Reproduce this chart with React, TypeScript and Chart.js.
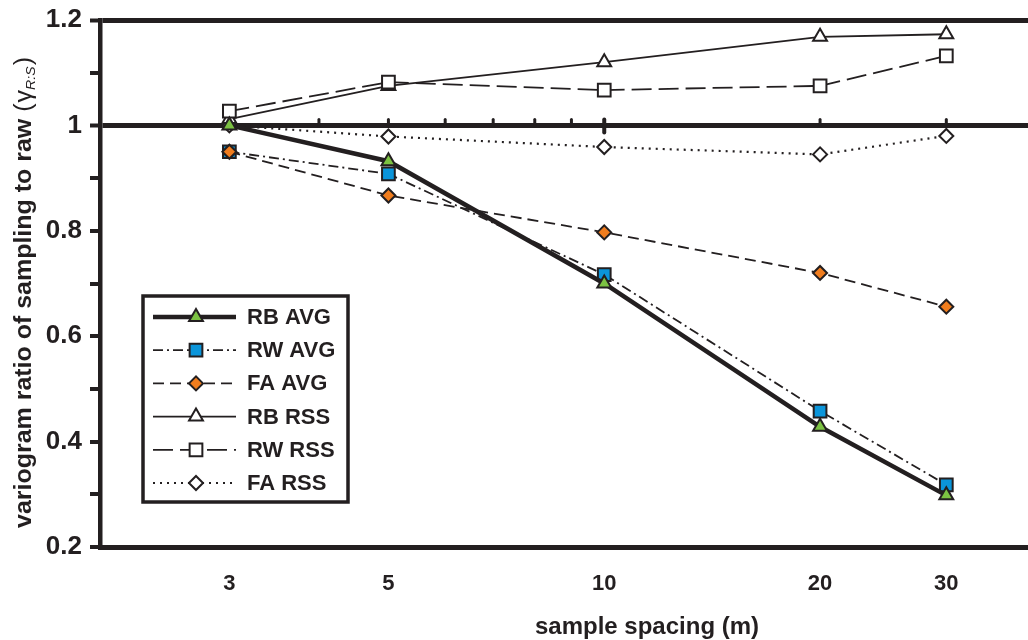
import React, { useEffect, useRef } from 'react';
import { Chart, registerables } from 'chart.js';

Chart.register(...registerables);

// ---------- data ----------
const spacing = [3, 5, 10, 20, 30];
const rbAvg = [1.0, 0.932, 0.7, 0.428, 0.298];
const rwAvg = [0.95, 0.908, 0.717, 0.458, 0.318];
const faAvg = [0.95, 0.867, 0.797, 0.72, 0.656];
const rbRss = [1.012, 1.075, 1.12, 1.168, 1.173];
const rwRss = [1.027, 1.082, 1.067, 1.075, 1.132];
const faRss = [1.0, 0.979, 0.959, 0.945, 0.98];

const seriesNames = ['RB AVG', 'RW AVG', 'FA AVG', 'RB RSS', 'RW RSS', 'FA RSS'];
const xTickValues = [3, 5, 10, 20, 30];
const refLineMinorTicks = [3, 4, 5, 6, 7, 8, 9, 10, 20, 30];
const yMin = 0.2;
const yMax = 1.2;
const yStep = 0.1;
const xMin = 1.98;
const xMax = 39;

const INK = '#231f20';
const FONT = '"Liberation Sans", Arial, Helvetica, sans-serif';

type Sty = { dash: number[]; width: number; point: string; fill: string; radius: number };
const styles: Sty[] = [
  { dash: [], width: 4.5, point: 'triangle', fill: '#7cc242', radius: 8 },
  { dash: [10, 4, 2, 4], width: 1.8, point: 'rect', fill: '#0b95da', radius: 9 },
  { dash: [11, 6], width: 1.8, point: 'rectRot', fill: '#f07d1e', radius: 7 },
  { dash: [], width: 1.8, point: 'triangle', fill: '#ffffff', radius: 8 },
  { dash: [20, 7], width: 1.8, point: 'rect', fill: '#ffffff', radius: 9 },
  { dash: [2, 5], width: 2.2, point: 'rectRot', fill: '#ffffff', radius: 7 },
];
const seriesValues = [rbAvg, rwAvg, faAvg, rbRss, rwRss, faRss];
const drawOrder = [0, 2, 1, 4, 3, 5];

function drawMarker(ctx: CanvasRenderingContext2D, s: Sty, x: number, y: number) {
  const r = s.radius;
  ctx.beginPath();
  if (s.point === 'triangle') {
    for (let i = 0; i < 3; i++) {
      const a = (i * 2 * Math.PI) / 3;
      const px = x + Math.sin(a) * r;
      const py = y - Math.cos(a) * r;
      if (i === 0) ctx.moveTo(px, py);
      else ctx.lineTo(px, py);
    }
  } else if (s.point === 'rect') {
    const h = Math.SQRT1_2 * r;
    ctx.rect(x - h, y - h, 2 * h, 2 * h);
  } else {
    ctx.moveTo(x - r, y);
    ctx.lineTo(x, y - r);
    ctx.lineTo(x + r, y);
    ctx.lineTo(x, y + r);
  }
  ctx.closePath();
  ctx.setLineDash([]);
  ctx.fillStyle = s.fill;
  ctx.fill();
  ctx.lineWidth = 2;
  ctx.strokeStyle = INK;
  ctx.stroke();
}

const decorPlugin = {
  id: 'decor',
  beforeDatasetsDraw(chart: any) {
    const ctx = chart.ctx as CanvasRenderingContext2D;
    const xs = chart.scales.x;
    const ys = chart.scales.y;
    const y1 = ys.getPixelForValue(1);
    ctx.save();
    ctx.strokeStyle = INK;
    ctx.lineCap = 'round';
    refLineMinorTicks.forEach((v) => {
      const px = xs.getPixelForValue(v);
      const major = v === 10;
      ctx.lineWidth = major ? 4 : 3;
      ctx.beginPath();
      ctx.moveTo(px, y1 - 6);
      ctx.lineTo(px, major ? y1 + 7 : y1);
      ctx.stroke();
    });
    ctx.restore();
  },
  afterDraw(chart: any) {
    const ctx = chart.ctx as CanvasRenderingContext2D;
    ctx.save();
    // legend box
    const bx = 143, by = 296, bw = 205, bh = 206;
    ctx.fillStyle = '#ffffff';
    ctx.fillRect(bx, by, bw, bh);
    ctx.lineWidth = 3.5;
    ctx.strokeStyle = INK;
    ctx.setLineDash([]);
    ctx.strokeRect(bx, by, bw, bh);
    const rowY0 = 317;
    const rowGap = 33.2;
    seriesNames.forEach((name, i) => {
      const s = styles[i];
      const yy = rowY0 + i * rowGap;
      ctx.beginPath();
      ctx.setLineDash(s.dash);
      ctx.lineWidth = s.width;
      ctx.strokeStyle = INK;
      ctx.moveTo(153, yy);
      ctx.lineTo(236, yy);
      ctx.stroke();
      drawMarker(ctx, s, 196, yy);
      ctx.fillStyle = INK;
      ctx.font = `bold 22px ${FONT}`;
      ctx.textBaseline = 'middle';
      ctx.textAlign = 'left';
      ctx.fillText(name, 247, yy + 1);
    });

    // x title
    ctx.fillStyle = INK;
    ctx.font = `bold 24px ${FONT}`;
    ctx.textAlign = 'center';
    ctx.textBaseline = 'alphabetic';
    ctx.fillText('sample spacing (m)', 647, 634);

    // y title (rotated), fitted to span from y=528 up to y=57
    const main = 'variogram ratio of sampling to raw ';
    ctx.textAlign = 'left';
    ctx.font = `bold 23px ${FONT}`;
    const wMain = ctx.measureText(main).width;
    ctx.font = `23px ${FONT}`;
    const wOpen = ctx.measureText('(').width;
    const wGamma = ctx.measureText('\u03b3').width;
    const wClose = ctx.measureText(')').width;
    ctx.font = `italic 13px ${FONT}`;
    const wSub = ctx.measureText('R:S').width;
    const total = wMain + wOpen + 1 + wGamma + wSub + 1 + wClose;
    const k = (528 - 57) / total;
    ctx.translate(31, 528);
    ctx.rotate(-Math.PI / 2);
    ctx.scale(k, 1);
    ctx.font = `bold 23px ${FONT}`;
    ctx.fillText(main, 0, 0);
    let cx = wMain;
    ctx.font = `23px ${FONT}`;
    ctx.fillText('(', cx, 0);
    cx += wOpen + 1;
    ctx.fillText('\u03b3', cx, 0);
    cx += wGamma;
    ctx.font = `italic 13px ${FONT}`;
    ctx.fillText('R:S', cx, 4);
    cx += wSub + 1;
    ctx.font = `23px ${FONT}`;
    ctx.fillText(')', cx, 0);
    ctx.restore();
  },
};

export default function App() {
  const ref = useRef<HTMLCanvasElement | null>(null);
  useEffect(() => {
    if (!ref.current) return;
    const datasets = drawOrder.map((idx, k) => {
      const s = styles[idx];
      return {
        label: seriesNames[idx],
        data: spacing.map((x, j) => ({ x, y: seriesValues[idx][j] })),
        borderColor: INK,
        borderWidth: s.width,
        borderDash: s.dash,
        tension: 0,
        fill: false,
        pointStyle: s.point,
        pointRadius: s.radius,
        pointBackgroundColor: s.fill,
        pointBorderColor: INK,
        pointBorderWidth: 2,
        order: k,
        clip: false as any,
      };
    });
    const isRef = (v: number) => Math.abs(v - 1) < 1e-6 || Math.abs(v - 1.2) < 1e-6;
    const chart = new Chart(ref.current, {
      type: 'line',
      data: { datasets },
      plugins: [decorPlugin],
      options: {
        responsive: false,
        animation: false,
        devicePixelRatio: 1,
        layout: { autoPadding: false, padding: { top: 20, right: 0, bottom: 0, left: 0 } },
        plugins: { legend: { display: false }, tooltip: { enabled: false } },
        scales: {
          x: {
            type: 'logarithmic',
            min: xMin,
            max: xMax,
            afterBuildTicks: (axis: any) => {
              axis.ticks = xTickValues.map((v) => ({ value: v }));
            },
            afterFit: (axis: any) => {
              axis.height = 93;
              axis.paddingLeft = 0;
              axis.paddingRight = 0;
            },
            grid: { display: false, drawTicks: false },
            border: { display: true, color: INK, width: 5 },
            ticks: {
              autoSkip: false,
              maxRotation: 0,
              padding: 24,
              color: INK,
              font: { family: FONT, size: 22, weight: 'bold' },
              callback: (v: any) => String(v),
            },
          },
          y: {
            type: 'linear',
            min: yMin,
            max: yMax,
            afterFit: (axis: any) => {
              axis.width = 100;
              axis.paddingTop = 0;
              axis.paddingBottom = 0;
            },
            grid: {
              drawOnChartArea: true,
              drawTicks: true,
              tickLength: 10,
              tickWidth: 4,
              tickColor: INK,
              color: (c: any) => (c.tick && isRef(c.tick.value) ? INK : 'rgba(0,0,0,0)'),
              lineWidth: (c: any) => (c.tick && isRef(c.tick.value) ? 5 : 0),
            },
            border: { display: true, color: INK, width: 4.5 },
            ticks: {
              stepSize: yStep,
              autoSkip: false,
              padding: 8,
              color: INK,
              font: { family: FONT, size: 26, weight: 'bold' },
              callback: (v: any) => {
                const n = Math.round(Number(v) * 10);
                return n % 2 === 0 ? String(Number((n / 10).toFixed(1))) : '';
              },
            },
          },
        },
      } as any,
    });
    return () => chart.destroy();
  }, []);
  return (
    <div style={{ position: 'absolute', left: 0, top: 0, width: 1028, height: 640 }}>
      <canvas ref={ref} width={1028} height={640} style={{ display: 'block' }} />
    </div>
  );
}
